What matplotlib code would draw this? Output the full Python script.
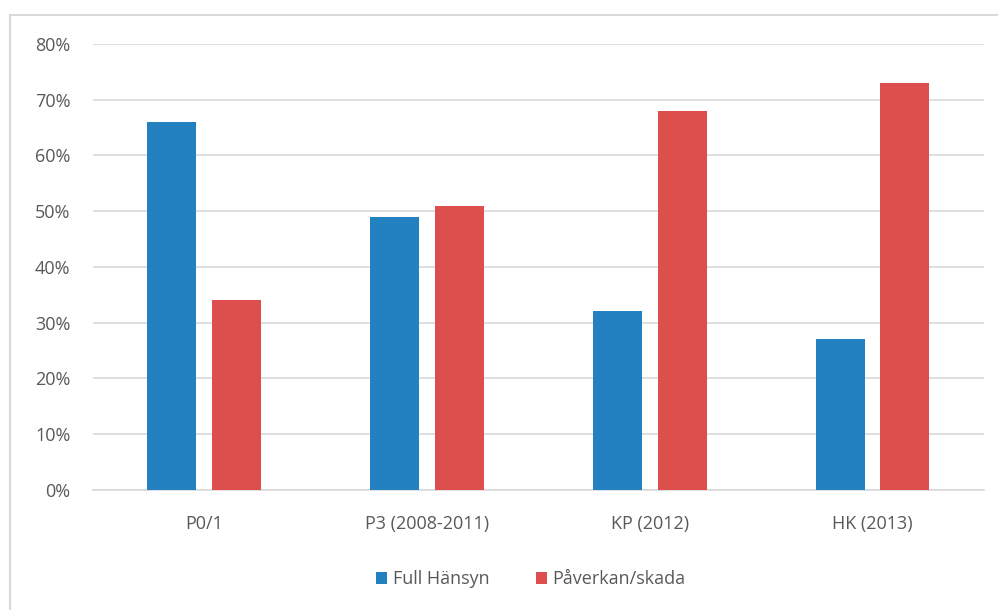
import numpy as np
import matplotlib.pyplot as plt
from matplotlib.lines import Line2D
from matplotlib.ticker import PercentFormatter

categories = ["P0/1", "P3 (2008-2011)", "KP (2012)", "HK (2013)"]
full_hansyn = [66, 49, 32, 27]
paverkan = [34, 51, 68, 73]
yticks = [0, 10, 20, 30, 40, 50, 60, 70, 80]

blue = "#2481C1"
red = "#DD4F4C"
grey = "#595959"

plt.rcParams['font.family'] = ['Open Sans', 'DejaVu Sans']

fig = plt.figure(figsize=(9.98, 6.10), dpi=100)
ax = fig.add_axes([0.093, 0.197, 0.893, 0.731])

x = np.arange(len(categories))
w = 0.22
off = 0.145
ax.bar(x - off, full_hansyn, w, color=blue, label="Full Hänsyn", zorder=3)
ax.bar(x + off, paverkan, w, color=red, label="Påverkan/skada", zorder=3)

ax.set_xlim(-0.5, len(categories) - 0.5)
ax.set_ylim(0, 80)
ax.set_yticks(yticks)
ax.yaxis.set_major_formatter(PercentFormatter(decimals=0))
ax.set_xticks(x)
ax.set_xticklabels(categories)
ax.tick_params(axis='both', length=0, colors=grey, labelsize=13)
ax.tick_params(axis='y', pad=16)
ax.tick_params(axis='x', pad=18)
ax.grid(axis='y', color="#D9D9D9", linewidth=1.2, zorder=0)
for s in ['top', 'right', 'left']:
    ax.spines[s].set_visible(False)
ax.spines['bottom'].set_color("#D9D9D9")
ax.spines['bottom'].set_linewidth(1.2)

leg = fig.legend(loc='center', bbox_to_anchor=(0.532, 0.05), ncol=2, frameon=False,
                 fontsize=13, handlelength=0.6, handleheight=0.6, handletextpad=0.3,
                 columnspacing=2.6)
for t in leg.get_texts():
    t.set_color(grey)

# chart border (only left and top visible)
fig.add_artist(Line2D([10 / 998, 10 / 998], [0, 1 - 15 / 610], transform=fig.transFigure,
                      color="#D9D9D9", linewidth=1.5))
fig.add_artist(Line2D([10 / 998, 1], [1 - 15 / 610, 1 - 15 / 610], transform=fig.transFigure,
                      color="#D9D9D9", linewidth=1.5))

fig.savefig("out.png", dpi=100)
